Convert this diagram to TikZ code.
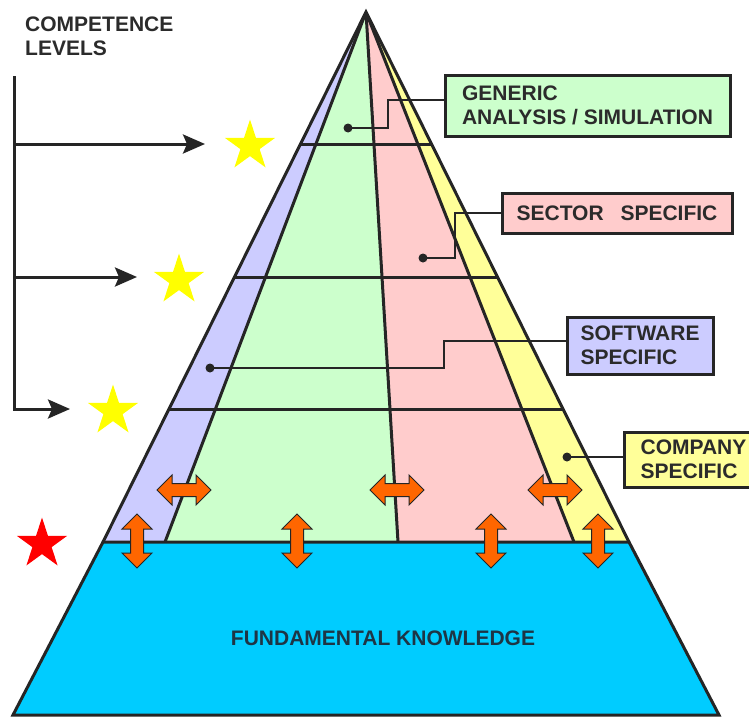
\documentclass[tikz,border=0pt]{standalone}
\usepackage{fontspec}
\setmainfont{Liberation Sans}
\usetikzlibrary{shapes.geometric,arrows.meta}
\definecolor{lnc}{HTML}{252525}
\definecolor{txt}{HTML}{2B2B2B}
\definecolor{cpurple}{HTML}{CCCCFF}
\definecolor{cgreen}{HTML}{CCFFCC}
\definecolor{cpink}{HTML}{FFCCCC}
\definecolor{cyellow}{HTML}{FFFF99}
\definecolor{cblue}{HTML}{00CCFF}
\definecolor{corange}{HTML}{FF6600}
\definecolor{cstar}{HTML}{FFFF00}
\definecolor{cred}{HTML}{FF0000}
\definecolor{fk}{HTML}{1E3545}
\begin{document}
\begin{tikzpicture}[x=1pt,y=-1pt,
  edge/.style={draw=lnc,line width=3pt},
  leader/.style={draw=lnc,line width=1.6pt},
  dot/.style={circle,fill=lnc,inner sep=0pt,minimum size=9pt},
  box/.style={draw=lnc,line width=3pt,align=left,inner sep=0pt,text=txt,
    font=\fontsize{21}{24}\selectfont\bfseries},
  starn/.style={star,star points=5,star point ratio=2.618,minimum size=53pt,inner sep=0pt,draw=none},
  cl/.style={draw=lnc,line width=3pt},
  tip/.style={-{Stealth[length=22pt,width=19pt,inset=4pt]}},
  dblarr/.pic={\filldraw[fill=corange,draw=lnc,line width=1pt,line join=miter]
     (-27,0) -- (-12,-15) -- (-12,-6.5) -- (12,-6.5) -- (12,-15) -- (27,0)
     -- (12,15) -- (12,6.5) -- (-12,6.5) -- (-12,15) -- cycle;}
]
\useasboundingbox (0,0) rectangle (749,717);
\fill[white] (0,0) rectangle (749,717);

% key points
\coordinate (A) at (366,12);
\coordinate (L) at (103,542);
\coordinate (R) at (629,542);
\coordinate (PG) at (165,542);
\coordinate (GP) at (398,542);
\coordinate (PY) at (574,542);
\coordinate (BL) at (13,715);
\coordinate (BR) at (719,715);

% pyramid regions
\begin{scope}
  \clip (A) -- (L) -- (R) -- cycle;
  \fill[cpurple] (A) -- (L) -- (PG) -- cycle;
  \fill[cgreen] (A) -- (PG) -- (GP) -- cycle;
  \fill[cpink] (A) -- (GP) -- (PY) -- cycle;
  \fill[cyellow] (A) -- (PY) -- (R) -- cycle;
  \draw[edge] (0,144) -- (749,144);
  \draw[edge] (0,277) -- (749,277);
  \draw[edge] (0,409) -- (749,409);
  \draw[edge] (A) -- (PG);
  \draw[edge] (A) -- (GP);
  \draw[edge] (A) -- (PY);
\end{scope}
\draw[edge,line join=miter] (L) -- (A) -- (R);

% base
\filldraw[fill=cblue,draw=lnc,line width=3pt,line join=miter] (L) -- (R) -- (BR) -- (BL) -- cycle;
\node[text=fk,font=\fontsize{21}{24}\selectfont\bfseries] (fund) at (383,638.5) {FUNDAMENTAL KNOWLEDGE};

% orange double arrows
\pic at (184,490) {dblarr};
\pic at (397,490) {dblarr};
\pic at (555,490) {dblarr};
\pic[rotate=90] at (137,541) {dblarr};
\pic[rotate=90] at (297,541) {dblarr};
\pic[rotate=90] at (491,541) {dblarr};
\pic[rotate=90] at (598,541) {dblarr};

% competence levels
\node[anchor=north west,inner sep=0pt,align=left,text=txt,
  font=\fontsize{21}{24}\selectfont\bfseries] (cl) at (25,17) {COMPETENCE\\LEVELS};
\coordinate (vtop) at (14,76);
\coordinate (t1) at (205,144);
\coordinate (t2) at (137,277);
\coordinate (t3) at (70,409);
\draw[cl,tip] (vtop) |- (t3);
\draw[cl,tip] (vtop |- t1) -- (t1);
\draw[cl,tip] (vtop |- t2) -- (t2);

% stars
\node[starn,fill=cstar] (s1) at (250,146) {};
\node[starn,fill=cstar] (s2) at (179,280) {};
\node[starn,fill=cstar] (s3) at (113,411) {};
\node[starn,fill=cred] (s4) at (42,544) {};

% label boxes
\node[box,fill=cgreen,minimum width=285pt,minimum height=61pt] (g) at (587.5,105.5) {GENERIC\\ANALYSIS / SIMULATION};
\node[box,fill=cpink,minimum width=230pt,minimum height=40pt] (s) at (617,213) {SECTOR\hspace{11pt} SPECIFIC};
\node[box,fill=cpurple,minimum width=146pt,minimum height=57pt] (w) at (640,345.5) {SOFTWARE\\SPECIFIC};
\node[box,fill=cyellow,minimum width=139pt,minimum height=55pt] (c) at (693.5,459.5) {COMPANY\\SPECIFIC};

% leader dots and lines
\node[dot] (d1) at (348,128) {};
\node[dot] (d2) at (423,258) {};
\node[dot] (d3) at (210,368) {};
\node[dot] (d4) at (567,457) {};
\draw[leader] (d1.center) -- (388,128) |- (g.west |- 0,100);
\draw[leader] (d2.center) -- (455,258) |- (s.west);
\draw[leader] (d3.center) -- (444,368) |- (w.west |- 0,341);
\draw[leader] (d4.center) -- (c.west |- d4);
\end{tikzpicture}
\end{document}
